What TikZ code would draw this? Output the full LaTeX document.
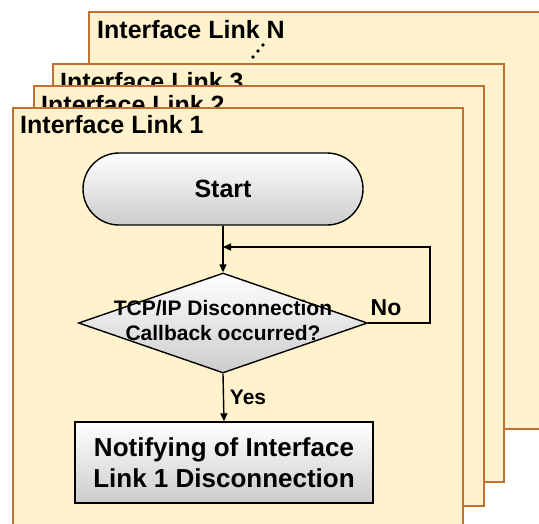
\documentclass[tikz,border=0pt]{standalone}
\usepackage{fontspec}
\setmainfont{Liberation Sans}
\usetikzlibrary{shapes.geometric,arrows.meta}
\definecolor{linkfill}{HTML}{FFF2CC}
\definecolor{linkedge}{RGB}{192,112,48}
\tikzset{
  linkbox/.style={fill=linkfill, draw=linkedge, line width=2.2pt},
  linktitle/.style={anchor=base west, inner sep=0pt, font=\fontsize{25}{29}\selectfont\bfseries},
  flowline/.style={draw=black, line width=1.4pt},
  flowarrow/.style={flowline, -{Triangle[length=8pt,width=7pt]}},
  shadedshape/.style={draw=black, line width=1.4pt, top color=white, bottom color=gray!40},
  flowtext/.style={align=center, inner sep=0pt, font=\fontsize{26}{31}\selectfont\bfseries},
  smalltext/.style={align=center, inner sep=0pt, font=\fontsize{21}{25}\selectfont\bfseries}
}
\begin{document}
\begin{tikzpicture}[x=1pt,y=-1pt]
\useasboundingbox (0,0) rectangle (539,523);
\clip (0,0) rectangle (539,523);
% stacked link boxes
\draw[linkbox] (89,12) rectangle (600,429);
\node[linktitle] (tN) at (97,38) {Interface Link N};
\fill (253,57) circle (1.8) (258,51) circle (1.8) (263,45) circle (1.8);
\draw[linkbox] (53,64) rectangle (504,482);
\node[linktitle] (t3) at (60,90) {Interface Link 3};
\draw[linkbox] (34,86) rectangle (484,506);
\node[linktitle] (t2) at (41,113) {Interface Link 2};
\draw[linkbox] (13,108) rectangle (463,600);
\node[linktitle] (t1) at (20,133) {Interface Link 1};
% flowchart
\node[shadedshape, rectangle, rounded corners=36pt, minimum width=280pt, minimum height=72pt, inner sep=0pt] (start) at (223,189) {};
\node[flowtext, font=\fontsize{25}{30}\selectfont\bfseries] (starttxt) at (start) {Start};
\node[shadedshape, diamond, minimum width=289pt, minimum height=100pt, inner sep=0pt] (dec) at (223,323) {};
\node[smalltext] (dectxt) at (223,320) {TCP/IP Disconnection\\Callback occurred?};
\node[shadedshape, rectangle, minimum width=298pt, minimum height=81pt, inner sep=0pt] (notify) at (224,462.5) {};
\node[flowtext] (notifytxt) at (notify) {Notifying of Interface\\Link 1 Disconnection};
\coordinate (loopA) at (430,323);
\coordinate (loopB) at (430,247);
\coordinate (join) at (223,247);
\draw[flowarrow] (start.south) -- (dec.north);
\draw[flowarrow] (dec.east) -- (loopA) -- (loopB) -- (join);
\draw[flowarrow] (dec.south) -- (notify.north);
\node[smalltext, font=\fontsize{23}{27}\selectfont\bfseries] (nolbl) at (386,308) {No};
\node[smalltext] (yeslbl) at (248,397) {Yes};
\end{tikzpicture}
\end{document}
